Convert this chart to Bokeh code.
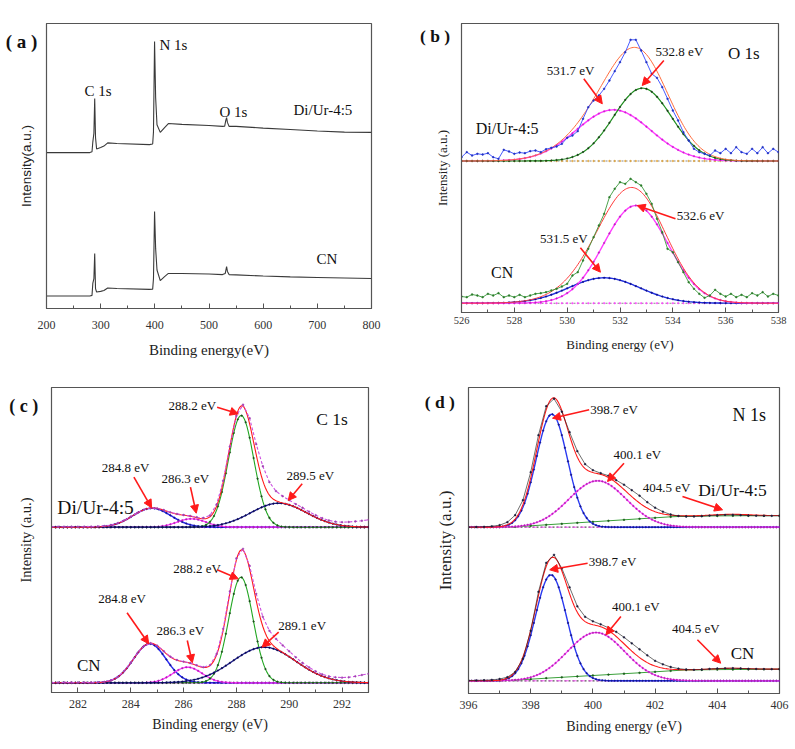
import numpy as np
from bokeh.plotting import figure
from bokeh.layouts import column, row
from bokeh.models import Label, Arrow, NormalHead, Range1d, SingleIntervalTicker, FixedTicker
from bokeh.embed import file_html
from bokeh.resources import INLINE

SERIF = "Liberation Serif"
SANS = "Liberation Sans"

# ---------------- (a) survey spectra ----------------
SURVEY_E_DIUR = [200, 280, 284, 285.5, 287.5, 289, 290.5, 292.5, 300, 306, 313, 330, 390, 396, 397.5,
                 399.5, 401.5, 404, 410, 418, 425, 450, 500, 525, 529, 531, 532.5, 534, 537, 550,
                 600, 650, 700, 750, 800]
SURVEY_I_DIUR = [54.7, 54.7, 55.0, 58.4, 61.5, 73.7, 60.0, 56.0, 56.5, 57.0, 58.1, 57.9, 57.5, 57.7, 62.0,
                 93.7, 74.0, 64.5, 61.8, 63.5, 64.9, 64.6, 64.2, 63.9, 64.0, 66.0, 67.0, 65.3, 63.9, 63.9,
                 63.3, 62.8, 62.3, 61.9, 61.8]
SURVEY_E_CN = [200, 280, 284, 285.5, 287.5, 289, 290.5, 292.5, 300, 306, 313, 330, 390, 396, 397.5,
               399.5, 401.5, 404, 410, 418, 425, 450, 500, 525, 530, 532.5, 534, 537, 550,
               600, 650, 700, 750, 800]
SURVEY_I_CN = [4.4, 4.4, 4.6, 8.8, 10.5, 19.3, 7.0, 5.8, 6.0, 6.3, 7.2, 7.0, 6.7, 6.8, 10.5,
               34.0, 21.0, 13.5, 9.8, 11.2, 12.3, 12.3, 12.1, 11.9, 12.3, 14.7, 13.0, 11.9, 11.8,
               11.4, 11.1, 10.9, 10.7, 10.5]

# ---------------- (b) O 1s ----------------
O1S_START, O1S_STEP = 526.0, 0.2
O1S_RAW_DIUR = [3.8, 8.8, 5.5, 7.2, 6.5, 7.8, 3.8, 2.2, 11.2, 9.5,
                7.2, 8.5, 7.8, 9.8, 10.5, 8.8, 11.8, 13.2, 14.5, 17.2,
                23.2, 25.5, 29.8, 42.2, 53.8, 60.5, 65.5, 72.2, 80.5, 89.8,
                98.8, 108.8, 121.2, 121.2, 110.5, 98.8, 87.2, 83.2, 73.8, 62.2,
                50.5, 40.5, 28.8, 20.5, 12.2, 8.8, 7.2, 5.5, 10.5, 7.8,
                12.2, 7.8, 13.8, 8.8, 7.2, 12.2, 7.8, 13.8, 7.8, 12.2, 8.8]
O1S_RAW_CN = [6.7, 6.0, 8.7, 7.7, 6.0, 9.4, 7.7, 10.0, 6.0, 7.7,
              6.0, 8.4, 6.0, 7.7, 9.4, 10.0, 11.0, 12.7, 14.4, 16.7,
              19.4, 27.7, 31.0, 42.7, 54.4, 66.0, 77.7, 89.4, 106.0, 114.4,
              121.0, 119.4, 124.4, 121.0, 117.7, 109.4, 99.4, 84.4, 71.0, 54.4,
              51.0, 41.0, 31.0, 21.0, 14.4, 9.4, 5.4, 7.7, 13.4, 9.4,
              6.7, 9.4, 6.0, 8.4, 6.0, 10.0, 7.7, 11.0, 6.7, 9.4, 7.7]
O1S_CENTER_DIUR = [531.75, 532.85]
O1S_HEIGHT_DIUR = [51.2, 72.8]
O1S_SIGMA_DIUR = [1.4, 1.1]
O1S_CENTER_CN = [531.4, 532.6]
O1S_HEIGHT_CN = [25.4, 97.7]
O1S_SIGMA_CN = [1.35, 1.22]
O1S_OFFSET = [151.5, 9.3]

# ---------------- (c) C 1s ----------------
C1S_START, C1S_STEP = 281.0, 0.25
C1S_RAW_DIUR = [0.5, 0.5, 0.4, 0.5, 0.5, 0.5, 0.6, 0.8, 1.2, 2.2,
                4.0, 6.8, 10.5, 14.3, 17.5, 19.2, 18.9, 17.2, 14.9, 13.3,
                12.2, 11.3, 10.0, 9.3, 11.8, 22.8, 46.5, 80.5, 111.5, 122.5,
                109.0, 83.0, 61.0, 45.0, 36.0, 31.0, 27.0, 23.0, 19.5, 15.5,
                12.0, 9.0, 6.8, 5.5, 5.0, 5.2, 5.8, 6.5, 7.4]
C1S_RAW_CN = [0.3, 0.3, 0.3, 0.3, 0.3, 0.3, 0.3, 0.5, 1.0, 2.5,
              5.8, 11.8, 20.2, 29.5, 36.8, 39.6, 37.2, 31.6, 26.2, 22.8,
              21.2, 19.8, 17.5, 15.6, 17.6, 28.8, 54.0, 91.5, 124.5, 134.0,
              117.0, 89.0, 66.0, 52.0, 44.0, 37.5, 31.5, 25.5, 20.0, 15.5,
              11.5, 8.5, 6.5, 5.5, 5.2, 5.5, 6.5, 7.8, 9.0]
C1S_CENTER_DIUR = [284.8, 286.3, 288.18, 289.6]
C1S_HEIGHT_DIUR = [19.0, 8.4, 111.7, 24.0]
C1S_SIGMA_DIUR = [0.72, 0.55, 0.48, 1.05]
C1S_CENTER_CN = [284.72, 286.15, 288.17, 289.05]
C1S_HEIGHT_CN = [39.0, 15.6, 105.6, 35.6]
C1S_SIGMA_CN = [0.62, 0.55, 0.46, 1.2]
C1S_OFFSET = [165.3, 9.7]

# ---------------- (d) N 1s ----------------
N1S_START, N1S_STEP = 396.0, 0.25
N1S_RAW_DIUR = [0.0, 0.2, 0.4, 0.9, 2.0, 5.0, 12.0, 27.0, 55.0, 92.0,
                121.0, 128.5, 115.5, 95.0, 76.0, 63.0, 57.0, 54.0, 51.5, 47.0,
                42.5, 37.0, 31.5, 25.0, 19.5, 15.5, 12.7, 11.2, 10.7, 10.7,
                11.0, 11.6, 12.0, 12.3, 12.4, 12.0, 11.7, 11.5, 11.4, 11.4, 11.4]
N1S_RAW_CN = [0.3, 0.4, 0.6, 0.9, 1.8, 3.6, 8.8, 22.0, 50.0, 89.0,
              118.0, 126.0, 112.5, 93.5, 74.5, 64.0, 59.5, 56.5, 53.0, 49.0,
              43.5, 37.5, 31.5, 25.5, 20.0, 16.5, 13.8, 12.2, 11.3, 11.0,
              11.3, 11.9, 12.3, 12.5, 12.6, 12.3, 12.0, 11.8, 11.7, 11.6, 11.6]
N1S_BG_STEP = 0.5
N1S_BG_DIUR = [0, 0, 0, 0.4, 1.4, 2.4, 3.4, 4.4, 5.4, 6.4, 7.4, 8.4, 9.4, 10.4, 11.0, 11.2, 11.3, 11.4, 11.5, 11.5, 11.6]
N1S_BG_CN = [0, 0, 0, 0.6, 1.6, 2.6, 3.5, 4.4, 5.3, 6.2, 7.1, 8.0, 9.0, 10.0, 10.8, 11.0, 11.2, 11.3, 11.4, 11.5, 11.6]
N1S_CENTER_DIUR = [398.68, 400.15, 404.45]
N1S_HEIGHT_DIUR = [113.0, 46.4, 1.5]
N1S_SIGMA_DIUR = [0.5, 0.92, 0.6]
N1S_CENTER_CN = [398.65, 400.1, 404.45]
N1S_HEIGHT_CN = [106.0, 48.3, 1.2]
N1S_SIGMA_CN = [0.5, 0.92, 0.6]
N1S_OFFSET = [166.3, 12.7]

RED = "#ff1a1a"


def gauss(x, c, h, s):
    return h * np.exp(-(x - c) ** 2 / (2.0 * s * s))


def base_fig(x0, x1, y1, fw, fh, bl, br, bt, bb, interval, tick_fs, xlabel, xlabel_fs,
             xstand, lstand, ylabel, ylabel_fs, yfont, ystand):
    p = figure(x_range=Range1d(x0, x1), y_range=Range1d(0, y1), frame_width=fw, frame_height=fh,
               min_border_left=bl, min_border_right=br, min_border_top=bt, min_border_bottom=bb,
               output_backend="svg", toolbar_location=None, tools="")
    p.xgrid.visible = False
    p.ygrid.visible = False
    p.outline_line_color = "#555555"
    p.outline_line_width = 1.2
    p.outline_line_alpha = 1
    p.background_fill_color = "white"
    p.border_fill_color = "white"
    xa = p.xaxis[0]
    xa.ticker = SingleIntervalTicker(interval=interval, num_minor_ticks=2)
    xa.major_tick_in = 5
    xa.major_tick_out = 0
    xa.minor_tick_in = 3
    xa.minor_tick_out = 0
    xa.axis_line_color = "#555555"
    xa.major_tick_line_color = "#555555"
    xa.minor_tick_line_color = "#555555"
    xa.major_label_text_font = SERIF
    xa.major_label_text_font_size = f"{tick_fs}px"
    xa.major_label_text_color = "#333333"
    xa.major_label_standoff = xstand
    xa.axis_label = xlabel
    xa.axis_label_text_font = SERIF
    xa.axis_label_text_font_size = f"{xlabel_fs}px"
    xa.axis_label_text_font_style = "normal"
    xa.axis_label_text_color = "#222222"
    xa.axis_label_standoff = lstand
    ya = p.yaxis[0]
    ya.ticker = FixedTicker(ticks=[])
    ya.major_tick_out = 0
    ya.major_tick_in = 0
    ya.minor_tick_out = 0
    ya.major_label_standoff = 0
    ya.axis_line_color = "#555555"
    ya.axis_label = ylabel
    ya.axis_label_text_font = yfont
    ya.axis_label_text_font_size = f"{ylabel_fs}px"
    ya.axis_label_text_font_style = "normal"
    ya.axis_label_text_color = "#222222"
    ya.axis_label_standoff = ystand
    return p


def txt(p, x, y, s, size, font=SERIF, bold=False, align="center"):
    p.add_layout(Label(x=x, y=y, text=s, text_font=font, text_font_size=f"{size}px",
                       text_font_style="bold" if bold else "normal", text_align=align,
                       text_baseline="middle", text_color="#111111"))


def panel_tag(p, side, dx, dy, s, size=18):
    # panel letter, hosted in a side panel so that it is not clipped to the frame
    p.add_layout(Label(x=dx, y=dy, x_units="screen", y_units="screen", text=s, text_font=SERIF,
                       text_font_size=f"{size}px", text_font_style="bold", text_align="center",
                       text_baseline="middle", text_color="#111111"), side)


def arrow(p, xs, ys, xe, ye):
    p.add_layout(Arrow(x_start=xs, y_start=ys, x_end=xe, y_end=ye, line_color=RED, line_width=1.6,
                       end=NormalHead(size=8, fill_color=RED, line_color=RED)))


def curve(p, x, y, color, width, dot_color=None, every=4, dot_size=1.6, dash="solid", alpha=1.0):
    p.line(x, y, line_color=color, line_width=width, line_dash=dash, line_alpha=alpha)
    if dot_color is not None:
        p.scatter(x[::every], y[::every], size=dot_size, fill_color=dot_color, line_color=dot_color,
                  line_width=0.5)


# ======================= panel (a) =======================
pa = base_fig(200, 800, 100, 325, 285, 46, 29, 23, 62, 100, 12, "Binding energy(eV)", 15, 12, 10,
              "Intensity(a.u.)", 13.5, SANS, 13)
pa.line(SURVEY_E_DIUR, SURVEY_I_DIUR, line_color="#3a3a3a", line_width=1.1)
pa.line(SURVEY_E_CN, SURVEY_I_CN, line_color="#3a3a3a", line_width=1.1)
panel_tag(pa, "above", -25, -18, "( a )", 19)
txt(pa, 270.2, 76.2, "C 1s", 15, align="left")
txt(pa, 408.6, 92.5, "N 1s", 15, align="left")
txt(pa, 519.4, 69.1, "O 1s", 15, align="left")
txt(pa, 656.0, 69.5, "Di/Ur-4:5", 15, align="left")
txt(pa, 698.5, 17.2, "CN", 15, align="left")

# ======================= panel (b) =======================
pb = base_fig(526, 538, 289, 317, 289, 61, 17, 18, 63, 2, 10.5, "Binding energy (eV)", 13, 4, 10,
              "Intensity (a.u.)", 13, SERIF, 12)
eo = O1S_START + O1S_STEP * np.arange(len(O1S_RAW_DIUR))
gb = np.linspace(526, 538, 241)
off = O1S_OFFSET[0]
curve(pb, gb, np.full_like(gb, off), "#8a8a8a", 1.1, dot_color="#e0a030", every=4, dash="2 2")
comps = [gauss(gb, c, h, s) for c, h, s in zip(O1S_CENTER_DIUR, O1S_HEIGHT_DIUR, O1S_SIGMA_DIUR)]
curve(pb, gb, comps[0] + off, "#ff3cff", 1.4, dot_color="#d020d0", every=4)
curve(pb, gb, comps[1] + off, "#1e8c1e", 1.2, dot_color="#1a3a1a", every=4)
curve(pb, gb, comps[0] + comps[1] + off, "#ff6a3a", 1.0)
curve(pb, eo, np.array(O1S_RAW_DIUR) + off, "#3448ff", 0.9, dot_color="#2030c0", every=1, dot_size=1.8)
off = O1S_OFFSET[1]
curve(pb, gb, np.full_like(gb, off), "#8a8a8a", 1.1, dot_color="#ff40ff", every=4, dash="2 2")
comps = [gauss(gb, c, h, s) for c, h, s in zip(O1S_CENTER_CN, O1S_HEIGHT_CN, O1S_SIGMA_CN)]
curve(pb, gb, comps[0] + off, "#1f2fe0", 1.4, dot_color="#10108a", every=4)
curve(pb, gb, comps[1] + off, "#ff3cff", 1.4, dot_color="#c020c0", every=4)
curve(pb, gb, comps[0] + comps[1] + off, "#ff3a3a", 1.0)
curve(pb, eo, np.array(O1S_RAW_CN) + off, "#3a9a3a", 0.9, dot_color="#2a7a2a", every=1, dot_size=1.8)
panel_tag(pb, "left", 33.5, 277, "( b )", 17.5)
txt(pb, 536.69, 258.7, "O 1s", 17)
txt(pb, 527.73, 183.7, "Di/Ur-4:5", 16)
txt(pb, 527.54, 40.3, "CN", 16)
txt(pb, 530.13, 242, "531.7 eV", 13)
arrow(pb, 530.63, 233.7, 531.33, 208.7)
txt(pb, 534.25, 261.3, "532.8 eV", 13)
arrow(pb, 533.66, 252, 532.84, 227)
txt(pb, 535.05, 97, "532.6 eV", 13)
arrow(pb, 534.1, 93.7, 532.65, 107)
txt(pb, 529.87, 73.7, "531.5 eV", 13)
arrow(pb, 530.5, 64.7, 531.26, 40.3)

# ======================= panel (c) =======================
pc = base_fig(281, 293, 305, 317, 305, 51, 32, 17, 52, 2, 12, "Binding energy (eV)", 14, 7, 6,
              "Intensity (a.u.)", 14.5, SERIF, 18)
ec = C1S_START + C1S_STEP * np.arange(len(C1S_RAW_DIUR))
gc = np.linspace(281, 293, 241)
for centers, heights, sigmas, raw, off in [
        (C1S_CENTER_DIUR, C1S_HEIGHT_DIUR, C1S_SIGMA_DIUR, C1S_RAW_DIUR, C1S_OFFSET[0]),
        (C1S_CENTER_CN, C1S_HEIGHT_CN, C1S_SIGMA_CN, C1S_RAW_CN, C1S_OFFSET[1])]:
    comps = [gauss(gc, c, h, s) for c, h, s in zip(centers, heights, sigmas)]
    curve(pc, gc, np.full_like(gc, off), "#ff40ff", 1.4, dot_color="#555555", every=4)
    curve(pc, gc, comps[0] + off, "#2a2af0", 1.5, dot_color="#14148a", every=3)
    curve(pc, gc, comps[1] + off, "#ff33ff", 1.3, dot_color="#b020b0", every=3)
    curve(pc, gc, comps[2] + off, "#22a622", 1.1, dot_color="#1a4a1a", every=3)
    curve(pc, gc, comps[3] + off, "#1c1c8a", 1.3, dot_color="#0a0a50", every=3)
    curve(pc, gc, sum(comps) + off, RED, 1.1)
    curve(pc, ec, np.array(raw) + off, "#cc4fe0", 1.1, dot_color="#a040b0", every=1, dot_size=1.8, dash="3 2")
panel_tag(pc, "right", -344.7, 287, "( c )")
txt(pc, 291.62, 273.7, "C 1s", 17.5)
txt(pc, 282.67, 185.3, "Di/Ur-4:5", 19.5)
txt(pc, 282.41, 27, "CN", 17)
txt(pc, 286.33, 287, "288.2 eV", 13)
arrow(pc, 287.27, 285.3, 288.07, 278.7)
txt(pc, 283.8, 225.3, "284.8 eV", 13)
arrow(pc, 284.12, 215.3, 284.79, 184.7)
txt(pc, 286.07, 213.7, "286.3 eV", 13)
arrow(pc, 286.26, 205.3, 286.48, 179.3)
txt(pc, 290.8, 217, "289.5 eV", 13)
arrow(pc, 290.49, 208.7, 289.96, 192)
txt(pc, 286.51, 123.7, "288.2 eV", 13)
arrow(pc, 287.27, 122.7, 288.07, 113.7)
txt(pc, 283.67, 93.7, "284.8 eV", 13)
arrow(pc, 283.86, 79.7, 284.68, 48.7)
txt(pc, 285.88, 62, "286.3 eV", 13)
arrow(pc, 286.14, 52, 286.33, 29.7)
txt(pc, 290.49, 67, "289.1 eV", 13)
arrow(pc, 289.6, 60.3, 288.97, 45.3)

# ======================= panel (d) =======================
pd_ = base_fig(396, 406, 306, 311, 306, 68, 16, 16, 52, 2, 12, "Binding energy (eV)", 14, 7, 7,
               "Intensity (a.u.)", 17, SERIF, 14)
en = N1S_START + N1S_STEP * np.arange(len(N1S_RAW_DIUR))
ebg = N1S_START + N1S_BG_STEP * np.arange(len(N1S_BG_DIUR))
gd = np.linspace(396, 406, 201)
for centers, heights, sigmas, raw, bg, off in [
        (N1S_CENTER_DIUR, N1S_HEIGHT_DIUR, N1S_SIGMA_DIUR, N1S_RAW_DIUR, N1S_BG_DIUR, N1S_OFFSET[0]),
        (N1S_CENTER_CN, N1S_HEIGHT_CN, N1S_SIGMA_CN, N1S_RAW_CN, N1S_BG_CN, N1S_OFFSET[1])]:
    comps = [gauss(gd, c, h, s) for c, h, s in zip(centers, heights, sigmas)]
    bgf = np.interp(gd, ebg, bg)
    curve(pd_, gd, np.full_like(gd, off), "#555555", 1.2, dash="2 2")
    curve(pd_, gd, np.full_like(gd, off), "#ff40ff", 1.0, dash="4 4", alpha=0.9)
    curve(pd_, ebg, np.array(bg) + off, "#3aa03a", 1.0, dot_color="#1a5a1a", every=1, dot_size=1.8)
    curve(pd_, gd, comps[0] + off, "#2a3af0", 1.4, dot_color="#14148a", every=2)
    curve(pd_, gd, comps[1] + off, "#ff40ff", 1.2, dot_color="#b020b0", every=2)
    curve(pd_, gd, comps[0] + comps[1] + comps[2] + bgf + off, RED, 1.1)
    curve(pd_, en, np.array(raw) + off, "#2a2a2a", 0.8, dot_color="#1a1a3a", every=1, dot_size=1.8, alpha=0.85)
panel_tag(pd_, "left", 37.3, 291.4, "( d )", 17.5)
txt(pd_, 405.03, 278.7, "N 1s", 18)
txt(pd_, 404.49, 203.7, "Di/Ur-4:5", 17.5)
txt(pd_, 404.81, 40.3, "CN", 17)
txt(pd_, 400.68, 283.7, "398.7 eV", 13)
arrow(pd_, 399.88, 283.7, 398.7, 275.3)
txt(pd_, 401.43, 238.7, "400.1 eV", 13)
arrow(pd_, 401.0, 230.3, 400.47, 212)
txt(pd_, 402.37, 206, "404.5 eV", 13)
arrow(pd_, 402.88, 197, 404.17, 183.7)
txt(pd_, 400.63, 132, "398.7 eV", 13)
arrow(pd_, 399.83, 130.3, 398.61, 123.7)
txt(pd_, 401.38, 87, "400.1 eV", 13)
arrow(pd_, 400.9, 77, 400.42, 58.7)
txt(pd_, 403.31, 65.3, "404.5 eV", 13)
arrow(pd_, 403.36, 53.7, 404.11, 30.3)

layout = column(row(pa, pb, spacing=0), row(pc, pd_, spacing=0), spacing=0)
open("out.html", "w").write(file_html(layout, INLINE))
